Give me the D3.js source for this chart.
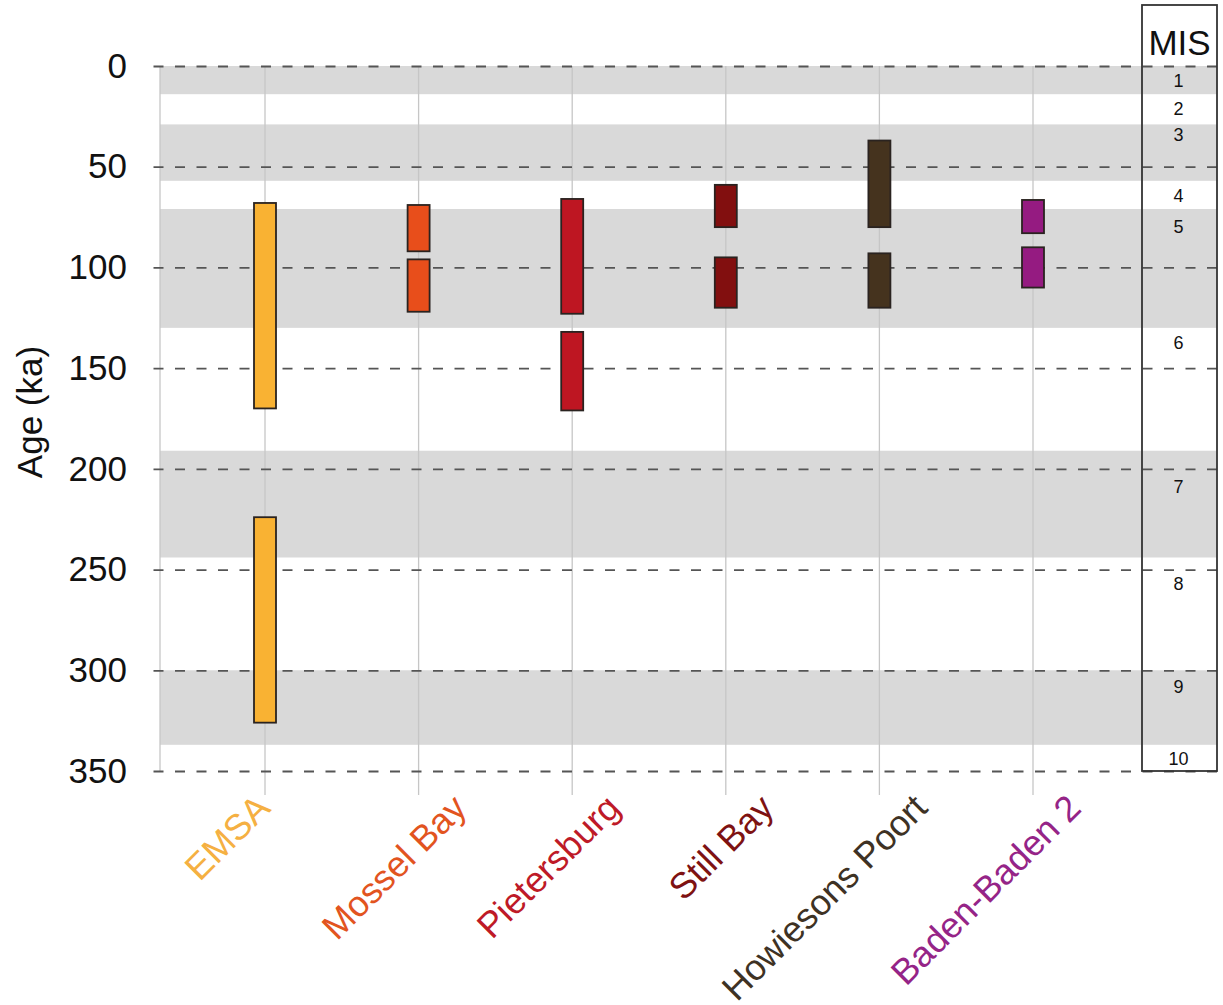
<!DOCTYPE html>
<html>
<head>
<meta charset="utf-8">
<script src="https://cdn.jsdelivr.net/npm/d3@7/dist/d3.min.js"></script>
<style>
  html, body { margin: 0; padding: 0; background: #fff; }
  svg { display: block; font-family: "Liberation Sans", Arial, sans-serif; }
</style>
</head>
<body>
<svg id="chart" width="1223" height="1005"></svg>
<script>
// Industries / technocomplexes along the x axis
const categories = ["EMSA", "Mossel Bay", "Pietersburg", "Still Bay", "Howiesons Poort", "Baden-Baden 2"];
const categoryColors = ["#F9B233", "#E84E1B", "#BE1622", "#820F0F", "#45331E", "#951B81"];
const labelColors = ["#F5B042", "#E2541F", "#BE1A27", "#7E1212", "#3E3224", "#952487"];

// Age ranges (ka) for each category: [start, end]
const emsaRanges = [[68, 170], [224, 326]];
const mosselBayRanges = [[69, 92], [96, 122]];
const pietersburgRanges = [[66, 123], [132, 171]];
const stillBayRanges = [[59, 80], [95, 120]];
const howiesonsPoortRanges = [[37, 80], [93, 120]];
const badenBaden2Ranges = [[66.5, 83], [90, 110]];
const ageRanges = [emsaRanges, mosselBayRanges, pietersburgRanges, stillBayRanges, howiesonsPoortRanges, badenBaden2Ranges];

// Marine isotope stage boundaries (ka) and labels
const misBoundaries = [0, 14, 29, 57, 71, 130, 191, 244, 300, 337, 350];
const misLabels = ["1", "2", "3", "4", "5", "6", "7", "8", "9", "10"];
const misLabelAge = [7, 21, 34, 64.5, 79.5, 137.5, 209, 257, 308, 344];

// y-axis ticks (ka)
const yTicks = [0, 50, 100, 150, 200, 250, 300, 350];

const svg = d3.select("#chart");

const plotLeft = 160, plotRight = 1217, misLeft = 1142;
const y = d3.scaleLinear().domain([0, 350]).range([66, 771]);
const x = d3.scalePoint().domain(categories).range([265, 1033]);

// alternating MIS bands (odd stages shaded)
const bands = misLabels.map((lab, i) => ({ lab, y0: misBoundaries[i], y1: misBoundaries[i + 1], odd: i % 2 === 0 }));
svg.append("g").selectAll("rect")
  .data(bands.filter(d => d.odd))
  .join("rect")
  .attr("x", plotLeft)
  .attr("width", plotRight - plotLeft)
  .attr("y", d => y(d.y0))
  .attr("height", d => y(d.y1) - y(d.y0))
  .attr("fill", "#D9D9D9");

// vertical grid lines
const grid = svg.append("g").attr("stroke", "#C6C6C6").attr("stroke-width", 1.3);
grid.append("line")
  .attr("x1", plotLeft).attr("x2", plotLeft)
  .attr("y1", y(0)).attr("y2", y(350));
grid.selectAll("line.cat")
  .data(categories)
  .join("line")
  .attr("class", "cat")
  .attr("x1", d => x(d)).attr("x2", d => x(d))
  .attr("y1", y(0)).attr("y2", y(350) + 24);

// y axis with dashed horizontal grid lines
const yAxis = d3.axisLeft(y)
  .tickValues(yTicks)
  .tickSizeInner(plotRight - 150)
  .tickSizeOuter(0)
  .tickPadding(23)
  .tickFormat(d3.format("d"));
const yg = svg.append("g")
  .attr("transform", `translate(${plotRight},0)`)
  .call(yAxis);
yg.select(".domain").remove();
yg.selectAll(".tick line")
  .attr("stroke", "#555")
  .attr("stroke-width", 1.8)
  .attr("stroke-dasharray", "10,11.5");
yg.selectAll(".tick text")
  .attr("font-size", 35)
  .attr("fill", "#111")
  .attr("font-family", "Liberation Sans, Arial, sans-serif");

// age range bars
const barW = 22;
const barData = [];
ageRanges.forEach((ranges, i) => ranges.forEach(r => barData.push({ cat: categories[i], color: categoryColors[i], a0: r[0], a1: r[1] })));
svg.append("g").selectAll("rect")
  .data(barData)
  .join("rect")
  .attr("x", d => x(d.cat) - barW / 2)
  .attr("width", barW)
  .attr("y", d => y(d.a0))
  .attr("height", d => y(d.a1) - y(d.a0))
  .attr("fill", d => d.color)
  .attr("stroke", "#2A2320")
  .attr("stroke-width", 1.8);

// MIS column
svg.append("rect")
  .attr("x", misLeft)
  .attr("y", 5)
  .attr("width", plotRight - misLeft)
  .attr("height", y(350) - 5)
  .attr("fill", "none")
  .attr("stroke", "#333")
  .attr("stroke-width", 1.8);
svg.append("text")
  .attr("x", (misLeft + plotRight) / 2)
  .attr("y", 55)
  .attr("text-anchor", "middle")
  .attr("font-size", 35)
  .attr("fill", "#111")
  .text("MIS");
svg.append("g").selectAll("text")
  .data(misLabels)
  .join("text")
  .attr("x", (misLeft + plotRight) / 2 - 1)
  .attr("y", (d, i) => y(misLabelAge[i]))
  .attr("dy", "0.36em")
  .attr("text-anchor", "middle")
  .attr("font-size", 18)
  .attr("fill", "#111")
  .text(d => d);

// y axis title
svg.append("text")
  .attr("transform", "translate(42,412) rotate(-90)")
  .attr("text-anchor", "middle")
  .attr("font-size", 35)
  .attr("fill", "#111")
  .text("Age (ka)");

// rotated category labels
const labelShift = { "EMSA": 7 };
svg.append("g").selectAll("text")
  .data(categories)
  .join("text")
  .attr("transform", d => `translate(${x(d) + (labelShift[d] ?? 50)},810) rotate(-45)`)
  .attr("text-anchor", "end")
  .attr("font-size", 36)
  .attr("fill", (d, i) => labelColors[i])
  .text(d => d);
</script>
</body>
</html>
